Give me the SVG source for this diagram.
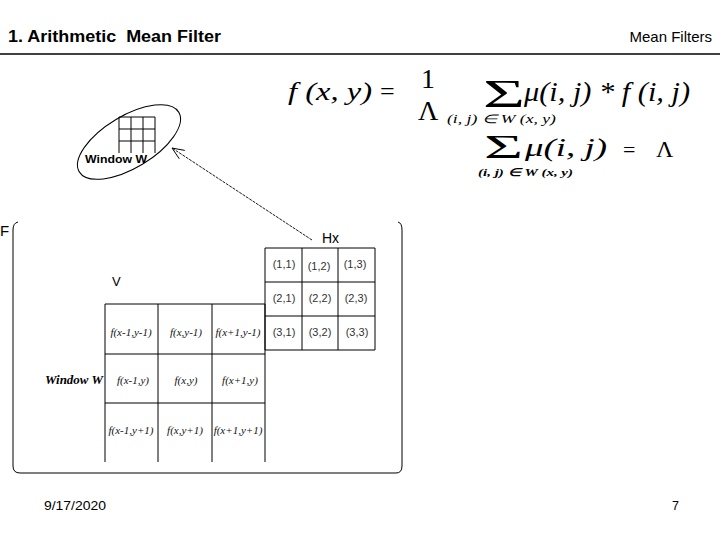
<svg xmlns="http://www.w3.org/2000/svg" width="720" height="540" viewBox="0 0 720 540">
<style>
.sans{font-family:"Liberation Sans",Arial,sans-serif;fill:#000}
.ser{font-family:"Liberation Serif","Times New Roman",serif;fill:#000}
.it{font-style:italic}
.ln{stroke:#000;stroke-width:1;fill:none}
.cell{font-family:"Liberation Serif","Times New Roman",serif;font-style:italic;font-size:11px;text-anchor:middle;fill:#111}
.hx{font-family:"Liberation Sans",Arial,sans-serif;font-size:11px;text-anchor:middle;fill:#333}
</style>
<defs>
<marker id="arr" markerWidth="14" markerHeight="12" refX="13" refY="6" orient="auto" markerUnits="userSpaceOnUse">
<path d="M1,1 L13,6 L1,11" fill="none" stroke="#000" stroke-width="0.9"/>
</marker>
</defs>
<rect width="720" height="540" fill="#fff"/>
<g id="header">
<text class="sans" x="8" y="42" font-size="16" font-weight="bold" xml:space="preserve" style="white-space:pre" textLength="213" lengthAdjust="spacingAndGlyphs">1. Arithmetic  Mean Filter</text>
<text class="sans" x="712" y="42" font-size="15" text-anchor="end">Mean Filters</text>
<line x1="0" y1="54" x2="720" y2="54" stroke="#000" stroke-width="1.3"/>
</g>
<g id="formula1">
<text class="ser it" x="288" y="100" font-size="26" textLength="84" lengthAdjust="spacingAndGlyphs">f (x, y)</text>
<text class="ser" x="380" y="100" font-size="26">=</text>
<text class="ser" x="421" y="88" font-size="28">1</text>
<text class="ser" x="418" y="120" font-size="28">Λ</text>
<text class="ser" x="483" y="107" font-size="40" textLength="42" lengthAdjust="spacingAndGlyphs">Σ</text>
<text class="ser it" x="524" y="101" font-size="28" textLength="166" lengthAdjust="spacingAndGlyphs">μ(i, j) * f (i, j)</text>
<text class="ser it" x="447" y="123" font-size="12" textLength="109" lengthAdjust="spacingAndGlyphs">(i, j) ∈ W (x, y)</text>
</g>
<g id="formula2">
<text class="ser" x="484" y="158" font-size="34" textLength="39" lengthAdjust="spacingAndGlyphs">Σ</text>
<text class="ser it" x="525" y="156" font-size="26" textLength="82" lengthAdjust="spacingAndGlyphs">μ(i, j)</text>
<text class="ser" x="623" y="157" font-size="22">=</text>
<text class="ser" x="656" y="157" font-size="24">Λ</text>
<text class="ser it" x="478" y="176" font-size="11" font-weight="bold" textLength="95" lengthAdjust="spacingAndGlyphs">(i, j) ∈ W (x, y)</text>
</g>
<g id="small-window">
<ellipse cx="129" cy="142" rx="58" ry="26" transform="rotate(-31 129 142)" class="ln"/>
<path class="ln" d="M119,117 H155 M119,129 H155 M119,141 H155 M119,117 V153 M131,117 V153 M143,117 V153 M155,117 V153"/>
<text class="sans" x="85" y="163" font-size="10.5" font-weight="bold" textLength="62" lengthAdjust="spacingAndGlyphs">Window W</text>
</g>
<g id="connectors">
<line x1="312" y1="240" x2="172" y2="148" stroke="#000" stroke-width="0.9" stroke-dasharray="3,1" marker-end="url(#arr)"/>
</g>
<g id="frame">
<path class="ln" d="M18,222 Q13,223 13,230 L13,466 Q13,473 20,473 L396,473 Q402,473 402,466 L402,230 Q402,223 398,222"/>
<text class="sans" x="0" y="236" font-size="15">F</text>
</g>
<g id="hx-grid">
<text class="sans" x="322" y="243" font-size="14">Hx</text>
<path class="ln" d="M265,248 H375 M265,282 H375 M265,316 H375 M265,350 H375 M265,248 V350 M302,248 V350 M338,248 V350 M375,248 V350"/>
<text class="hx" x="284" y="268">(1,1)</text>
<text class="hx" x="319" y="270">(1,2)</text>
<text class="hx" x="355" y="268">(1,3)</text>
<text class="hx" x="284" y="302">(2,1)</text>
<text class="hx" x="320" y="302">(2,2)</text>
<text class="hx" x="356" y="302">(2,3)</text>
<text class="hx" x="284" y="336">(3,1)</text>
<text class="hx" x="320" y="336">(3,2)</text>
<text class="hx" x="357" y="336">(3,3)</text>
</g>
<g id="v-label">
<text class="sans" x="112" y="286" font-size="13" fill="#222">V</text>
</g>
<g id="window-grid">
<path class="ln" d="M105,304 H265 M105,354 H265 M105,403 H265 M105,304 V462 M158,304 V462 M212,304 V462 M265,304 V462"/>
<text class="cell" x="131" y="336">f(x-1,y-1)</text>
<text class="cell" x="186" y="336">f(x,y-1)</text>
<text class="cell" x="238" y="336">f(x+1,y-1)</text>
<text class="cell" x="133" y="384">f(x-1,y)</text>
<text class="cell" x="186" y="384">f(x,y)</text>
<text class="cell" x="240" y="384">f(x+1,y)</text>
<text class="cell" x="131" y="434">f(x-1,y+1)</text>
<text class="cell" x="185" y="434">f(x,y+1)</text>
<text class="cell" x="238" y="434">f(x+1,y+1)</text>
<text class="ser it" x="45" y="384" font-size="11.5" font-weight="bold" textLength="58" lengthAdjust="spacingAndGlyphs">Window W</text>
</g>
<g id="footer">
<text class="sans" x="44" y="510" font-size="12.5" textLength="62" lengthAdjust="spacingAndGlyphs">9/17/2020</text>
<text class="sans" x="672" y="510" font-size="12.5">7</text>
</g>
</svg>
